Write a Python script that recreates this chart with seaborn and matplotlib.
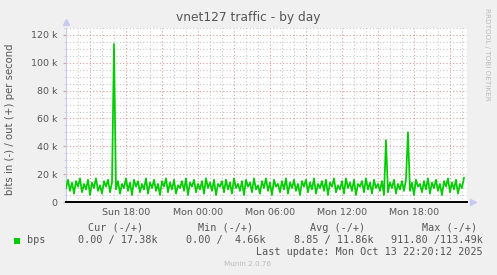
import matplotlib
matplotlib.use("Agg")
import matplotlib.pyplot as plt
import matplotlib.dates as mdates
from matplotlib.ticker import MultipleLocator, FuncFormatter
import numpy as np
import pandas as pd
import seaborn as sns

# ---------------- data ----------------
title = "vnet127 traffic - by day"
ylabel = "bits in (-) / out (+) per second"
start_time = "2025-10-12 13:00"
sample_minutes = 10
# outbound bits per second, in thousands, one value per 10 minutes
out_kbps = [
    10, 16, 8, 14, 6, 15, 11, 17, 7, 13, 9, 16, 5, 14, 10, 17, 8, 12, 6, 15,
    11, 16, 7, 14, 113.49, 9, 15, 6, 13, 10, 17, 8, 14, 5, 16, 11, 15, 7, 13, 9,
    17, 6, 14, 10, 16, 8, 13, 5, 15, 11, 17, 7, 14, 9, 16, 6, 12, 10, 15, 8,
    17, 5, 14, 11, 16, 7, 13, 9, 15, 6, 17, 10, 14, 8, 16, 5, 13, 11, 15, 7,
    16, 9, 14, 6, 17, 10, 13, 8, 15, 5, 16, 11, 14, 7, 17, 9, 12, 6, 15, 10,
    17, 8, 14, 5, 16, 11, 13, 7, 15, 9, 17, 6, 14, 10, 16, 8, 13, 5, 15, 11,
    16, 7, 14, 9, 17, 6, 13, 10, 15, 8, 16, 5, 14, 11, 17, 7, 12, 9, 15, 6,
    17, 10, 14, 8, 16, 5, 13, 11, 15, 7, 17, 9, 14, 6, 16, 10, 13, 8, 15, 5,
    44.5, 7, 14, 10, 16, 6, 13, 9, 15, 8, 16, 50.1, 8, 14, 5, 16, 11, 13, 7, 15,
    9, 17, 6, 14, 10, 16, 8, 13, 5, 15, 11, 17, 7, 14, 9, 16, 6, 13, 10, 17.38,
]
legend_series = "bps"
legend_headers = ["Cur (-/+)", "Min (-/+)", "Avg (-/+)", "Max (-/+)"]
legend_values = ["0.00 / 17.38k", "0.00 /  4.66k", "8.85 / 11.86k", "911.80 /113.49k"]
last_update = "Last update: Mon Oct 13 22:20:12 2025"
footer = "Munin 2.0.76"
side_text = "RRDTOOL / TOBI OETIKER"

# ---------------- build ----------------
times = pd.date_range(start_time, periods=len(out_kbps), freq=f"{sample_minutes}min")
df = pd.DataFrame({"time": times, "bps": np.array(out_kbps) * 1000.0})

W, H = 497, 275
fig = plt.figure(figsize=(W / 100, H / 100), dpi=100, facecolor="#F0F0F0")
ax = fig.add_axes([66 / W, 1 - 202 / H, 401 / W, 174 / H])
ax.set_facecolor("white")

text_col = "#555555"
major_col = "#E09A9A"
minor_col = "#C8C8C8"

x0 = pd.Timestamp(start_time)
ax.set_xlim(x0, x0 + pd.Timedelta(hours=33.42))
ax.set_ylim(0, 125000)

ax.xaxis.set_major_locator(mdates.HourLocator(interval=3))
ax.xaxis.set_minor_locator(mdates.HourLocator(interval=1))


def xfmt(v, pos):
    d = mdates.num2date(v)
    return d.strftime("%a %H:%M") if d.hour % 6 == 0 else ""


ax.xaxis.set_major_formatter(FuncFormatter(xfmt))
ax.yaxis.set_major_locator(MultipleLocator(20000))
ax.yaxis.set_minor_locator(MultipleLocator(5000))
ax.yaxis.set_major_formatter(FuncFormatter(lambda v, p: "0" if v == 0 else f"{int(round(v / 1000))} k"))

ax.grid(which="minor", color=minor_col, linestyle=(0, (1, 2)), linewidth=0.8)
ax.grid(which="major", color=major_col, linestyle=(0, (1, 2)), linewidth=0.8)
ax.set_axisbelow(True)

sns.lineplot(data=df, x="time", y="bps", color="#00CC00", linewidth=1.25, ax=ax, zorder=3)

for s in ["top", "right"]:
    ax.spines[s].set_visible(False)
ax.spines["left"].set_color("#C8C8F0")
ax.spines["bottom"].set_visible(False)
ax.spines["left"].set_linewidth(0.8)
ax.axhline(0, color="black", linewidth=1.4, zorder=4, clip_on=False)
ax.plot([0], [1.035], marker="^", color="#C8C8F0", markersize=4, transform=ax.transAxes, clip_on=False)
ax.plot([1.015], [0], marker=">", color="#C8C8F0", markersize=4, transform=ax.transAxes, clip_on=False)

ax.tick_params(axis="both", which="both", colors="#E09A9A", labelcolor=text_col, labelsize=6.8)
ax.tick_params(axis="y", which="major", length=2, pad=4)
ax.tick_params(axis="y", which="minor", length=1.5, colors="#C8C8F0")
ax.tick_params(axis="x", which="both", length=0, pad=4)
ax.set_xlabel("")
ax.set_ylabel("")

fig.text(248 / W, 1 - 17 / H, title, ha="center", va="center", fontsize=8.8, color=text_col)
fig.text(10 / W, 1 - 119 / H, ylabel, ha="center", va="center", rotation=90, fontsize=7.3, color=text_col)
fig.text(487 / W, 1 - 8 / H, side_text, ha="center", va="top", rotation=270, fontsize=5.2, color="#BBBBBB")

mono = "DejaVu Sans Mono"
fs = 7.3
fig.patches.append(plt.Rectangle((14 / W, 1 - 244 / H), 6 / W, 6 / H, transform=fig.transFigure,
                                 facecolor="#00CC00", edgecolor="none"))
fig.text(27 / W, 1 - 240 / H, legend_series, ha="left", va="center", family=mono, fontsize=fs, color=text_col)
header_right = [143, 253, 365, 477]
value_right = [158, 266, 374, 483]
for h, xr in zip(legend_headers, header_right):
    fig.text(xr / W, 1 - 228 / H, h, ha="right", va="center", family=mono, fontsize=fs, color=text_col)
for v, xr in zip(legend_values, value_right):
    fig.text(xr / W, 1 - 240 / H, v, ha="right", va="center", family=mono, fontsize=fs, color=text_col)
fig.text(483 / W, 1 - 252 / H, last_update, ha="right", va="center", family=mono, fontsize=fs, color=text_col)
fig.text(248 / W, 1 - 264 / H, footer, ha="center", va="center", fontsize=5.2, color="#BBBBBB")

fig.savefig("out.png", dpi=100, facecolor=fig.get_facecolor())
